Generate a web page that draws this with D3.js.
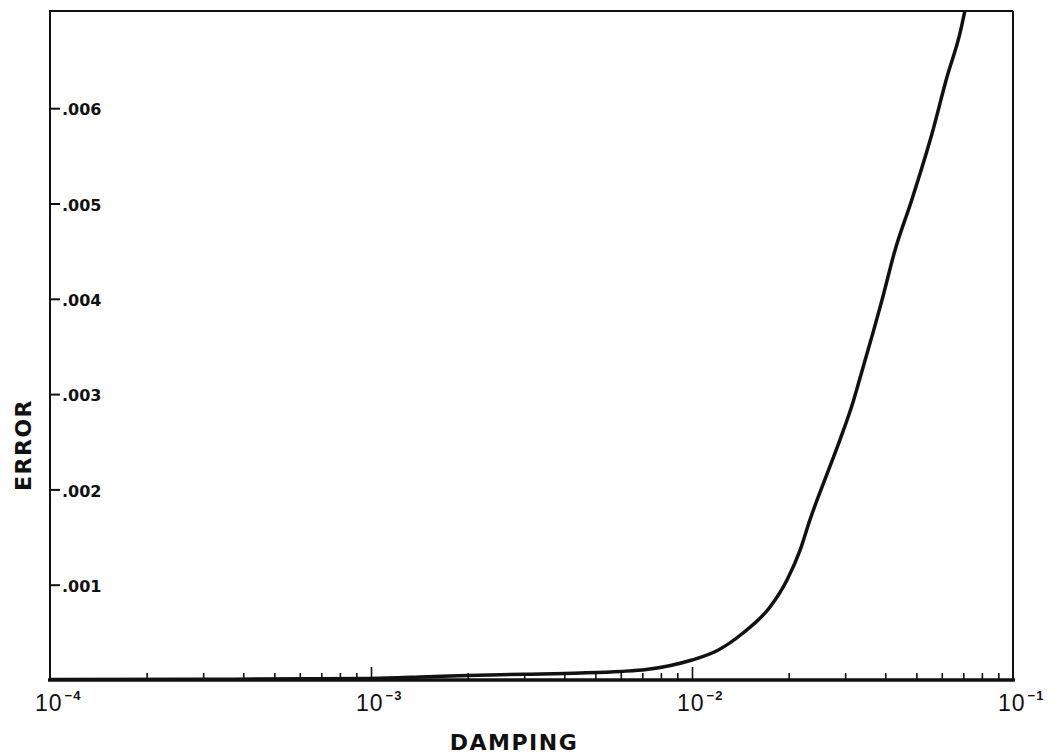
<!DOCTYPE html>
<html>
<head>
<meta charset="utf-8">
<script src="https://cdn.jsdelivr.net/npm/d3@7"></script>
<style>
  html, body { margin: 0; padding: 0; background: #fff; }
  svg { display: block; }
</style>
</head>
<body>
<svg id="chart" width="1052" height="756"></svg>
<script>
// ---- Data ----
const damping = [1e-4, 3e-4, 1e-3, 1.5e-3, 2e-3, 3e-3, 4.5e-3, 6e-3, 7.2e-3, 8.5e-3, 1e-2,
  1.2e-2, 1.442e-2, 1.75e-2, 1.977e-2, 2.17e-2, 2.33e-2, 2.64e-2, 2.89e-2, 3.17e-2,
  3.41e-2, 3.66e-2, 3.91e-2, 4.29e-2, 4.84e-2, 5.6e-2, 6.23e-2, 6.84e-2, 7.08e-2];
const error = [0.000005, 0.000008, 0.000016, 0.000034, 0.000048, 0.00006, 0.000073, 0.00009, 0.00011, 0.00015, 0.00021,
  0.00031, 0.000493, 0.000766, 0.00105, 0.00136, 0.00168, 0.00217, 0.00252, 0.00291,
  0.00328, 0.00364, 0.00399, 0.00451, 0.00504, 0.00574, 0.00633, 0.00679, 0.00702];
const yTicks = [0.001, 0.002, 0.003, 0.004, 0.005, 0.006];
const xMajor = [1e-4, 1e-3, 1e-2, 1e-1];
const xMajorExp = ["-4", "-3", "-2", "-1"];
const xMinorMult = [2, 3, 4, 5, 6, 7, 8, 9];
const xLabel = "DAMPING";
const yLabel = "ERROR";

// ---- Layout ----
const L = 50, R = 1013, T = 11, B = 680;
const svg = d3.select("#chart");
const ink = "#111";

const x = d3.scaleLog().domain([1e-4, 1e-1]).range([L, R]);
const y = d3.scaleLinear().domain([0, 0.00702]).range([B, T]);

svg.append("defs").append("clipPath").attr("id", "plotclip")
  .append("rect").attr("x", L).attr("y", T).attr("width", R - L).attr("height", B - T);

// Frame
svg.append("line").attr("x1", L).attr("x2", R).attr("y1", T).attr("y2", T)
  .attr("stroke", ink).attr("stroke-width", 2);
svg.append("line").attr("x1", R).attr("x2", R).attr("y1", T).attr("y2", B)
  .attr("stroke", ink).attr("stroke-width", 2);

// Minor x ticks
const minorTicks = [];
[1e-4, 1e-3, 1e-2].forEach(d => xMinorMult.forEach(m => minorTicks.push(d * m)));

const gMinor = svg.append("g").attr("transform", `translate(0,${B})`)
  .call(d3.axisBottom(x).tickValues(minorTicks).tickSizeInner(-7).tickSizeOuter(0).tickFormat(""));
gMinor.select(".domain").remove();
gMinor.selectAll("line").attr("stroke", ink).attr("stroke-width", 1.6);

const gMajor = svg.append("g").attr("transform", `translate(0,${B})`)
  .call(d3.axisBottom(x).tickValues(xMajor.slice(1, 3)).tickSizeInner(-13).tickSizeOuter(0).tickFormat(""));
gMajor.select(".domain").remove();
gMajor.selectAll("line").attr("stroke", ink).attr("stroke-width", 1.6);

// Bottom axis line
svg.append("line").attr("x1", L - 2).attr("x2", R + 2).attr("y1", B).attr("y2", B)
  .attr("stroke", ink).attr("stroke-width", 3.5);

// X tick labels with superscripts
const xl = svg.append("g");
xMajor.forEach((d, i) => {
  const t = xl.append("text")
    .attr("x", x(d) - 15).attr("y", 711)
    .attr("font-family", "'Liberation Sans', Arial, sans-serif")
    .attr("font-size", 23).attr("letter-spacing", 1).attr("fill", ink);
  t.append("tspan").text("10");
  t.append("tspan").attr("dx", 2).attr("dy", -11).attr("font-size", 13)
    .attr("font-weight", "bold").attr("letter-spacing", 1)
    .text(xMajorExp[i].replace("-", "\u2212"));
});

// Y axis (ticks pointing inward, labels inside)
const gy = svg.append("g").attr("transform", `translate(${L},0)`)
  .call(d3.axisRight(y).tickValues(yTicks).tickSizeInner(10).tickSizeOuter(0).tickPadding(2)
    .tickFormat(d => d3.format(".3f")(d).slice(1)));
gy.select(".domain").remove();
gy.selectAll("line").attr("stroke", ink).attr("stroke-width", 2);
gy.selectAll("text")
  .attr("font-family", "'DejaVu Sans', sans-serif")
  .attr("font-weight", "bold").attr("font-size", 16).attr("fill", ink)
  .attr("dy", "0.42em");

svg.append("line").attr("x1", L).attr("x2", L).attr("y1", T - 1).attr("y2", B)
  .attr("stroke", ink).attr("stroke-width", 2);

// Curve
const pts = damping.map((d, i) => [d, error[i]]);
const line = d3.line().x(d => x(d[0])).y(d => y(d[1])).curve(d3.curveMonotoneX);
svg.append("path").datum(pts)
  .attr("clip-path", "url(#plotclip)")
  .attr("d", line).attr("fill", "none")
  .attr("stroke", ink).attr("stroke-width", 3.5).attr("stroke-linejoin", "round");

// Axis titles
svg.append("text").attr("x", 514).attr("y", 750).attr("text-anchor", "middle")
  .attr("font-family", "'DejaVu Sans', sans-serif").attr("font-weight", "bold")
  .attr("font-size", 22).attr("letter-spacing", 1.5).attr("fill", ink).text(xLabel);

svg.append("text").attr("transform", "translate(31,445) rotate(-90)").attr("text-anchor", "middle")
  .attr("font-family", "'DejaVu Sans', sans-serif").attr("font-weight", "bold")
  .attr("font-size", 22).attr("letter-spacing", 1.5).attr("fill", ink).text(yLabel);
</script>
</body>
</html>
